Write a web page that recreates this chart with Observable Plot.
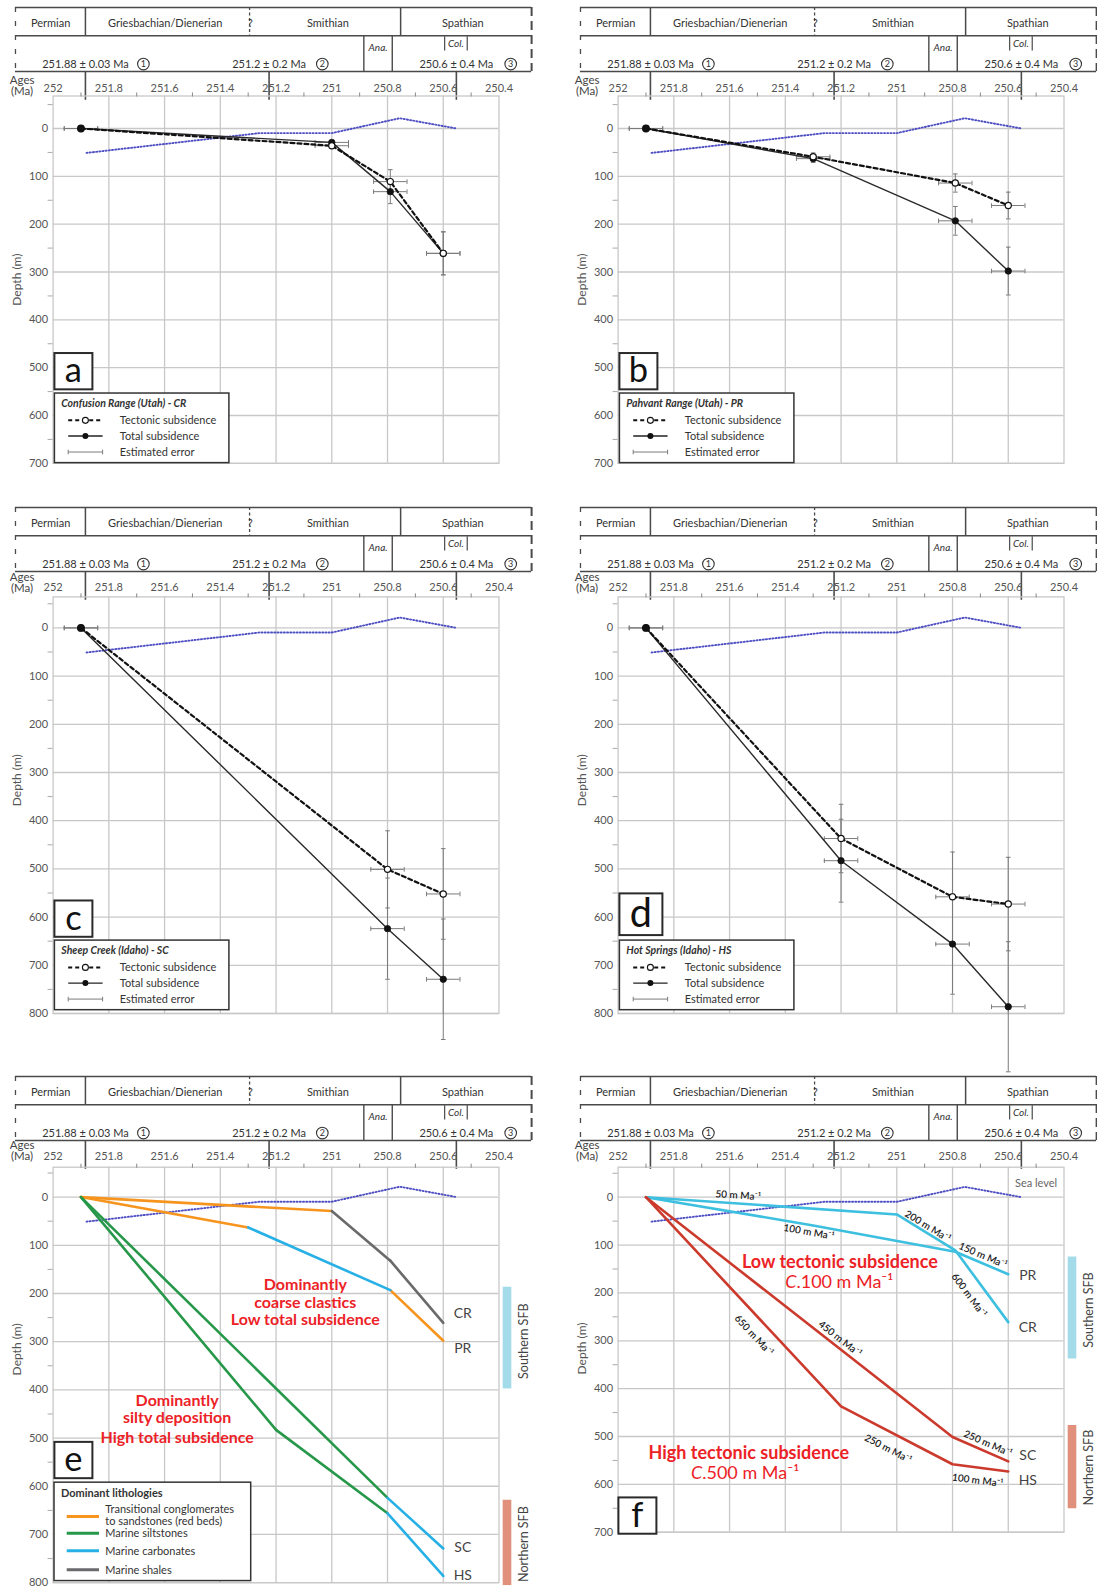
<!DOCTYPE html>
<html><head><meta charset="utf-8">
<script src="https://cdn.jsdelivr.net/npm/d3@7"></script>
<script src="https://cdn.jsdelivr.net/npm/@observablehq/plot@0.6"></script>
<style>
html,body{margin:0;padding:0;background:#fff;}
#page{position:relative;width:1097px;height:1589px;overflow:hidden;background:#fff;}
.abs{position:absolute;}
.abs svg{overflow:visible;}
</style></head><body><div id="page"></div>
<script>
// ---------------- DATA ----------------
// Time scale (Ma) ticks
const xTicks = [252, 251.8, 251.6, 251.4, 251.2, 251, 250.8, 250.6, 250.4];
const xMinor = [251.9, 251.7, 251.5, 251.3, 251.1, 250.9, 250.7, 250.5];
const xGrid = [251.8, 251.6, 251.4, 251.2, 251, 250.8, 250.6];
const yTicks700 = [0, 100, 200, 300, 400, 500, 600, 700];
const yTicks800 = [0, 100, 200, 300, 400, 500, 600, 700, 800];
const yMinor700 = [-50, 50, 150, 250, 350, 450, 550, 650];
const yMinor800 = [-50, 50, 150, 250, 350, 450, 550, 650, 750];

// Stratigraphic header
const stageNames = ["Permian", "Griesbachian/Dienerian", "Smithian", "Spathian"];
const stageNameAges = [252.009, 251.598, 251.014, 250.53];
const stageBoundaryAges = [251.884, 250.753];
const uncertainBoundaryAge = 251.295;
const anaBounds = [250.885, 250.783];
const colBounds = [250.595, 250.514];
const dateLabels = ["251.88 \u00b1 0.03 Ma", "251.2 \u00b1 0.2 Ma", "250.6 \u00b1 0.4 Ma"];
const dateNums = ["1", "2", "3"];
const dateAges = [251.884, 251.225, 250.553];
const dateCircleAges = [251.676, 251.034, 250.358];

// Eustatic sea level (dotted)
const seaAges = [251.88, 251.4, 251.26, 251.0, 250.756, 250.552];
const seaDepths = [51, 19, 9.6, 9.6, -21.5, 0];

// Subsidence sites: ages (Ma), tectonic & total subsidence (m), depth errors (m)
const AGE_ERR = 0.06;
const agesCR = [251.9, 251.0, 250.79, 250.6];
const tectCR = [0, 36, 111, 261];
const totalCR = [0, 29, 132, 261];
const tectErrCR = [0, 4, 25, 45];
const totalErrCR = [0, 4, 25, 45];

const agesPR = [251.9, 251.3, 250.79, 250.6];
const tectPR = [0, 59, 114, 161];
const totalPR = [0, 63, 193, 298];
const tectErrPR = [0, 8, 19, 28];
const totalErrPR = [0, 8, 30, 50];

const agesSC = [251.9, 250.8, 250.6];
const tectSC = [0, 501, 552];
const totalSC = [0, 624, 729];
const tectErrSC = [0, 80, 94];
const totalErrSC = [0, 105, 125];

const agesHS = [251.9, 251.2, 250.8, 250.6];
const tectHS = [0, 437, 558, 573];
const totalHS = [0, 483, 656, 786];
const tectErrHS = [0, 71, 93, 97];
const totalErrHS = [0, 86, 104, 135];

// Dominant lithology of each total-subsidence segment (panel e)
const lithoCR = ["redbeds", "shales", "shales"];
const lithoPR = ["redbeds", "carbonates", "redbeds"];
const lithoSC = ["siltstones", "carbonates"];
const lithoHS = ["siltstones", "siltstones", "carbonates"];

// Site end labels
const siteLabelsE = ["CR", "PR", "SC", "HS"];
const siteLabelDepthsE = [242, 315, 727, 785];
const siteLabelsF = ["PR", "CR", "SC", "HS"];
const siteLabelDepthsF = [164, 272, 540, 593];
const siteLabelAge = 250.53;

// SFB region bars
const regionNames = ["Southern SFB", "Northern SFB"];
const regionTopE = [187, 629], regionBottomE = [398, 806];
const regionTopF = [125, 477], regionBottomF = [338, 651];
const regionTextDepthE = [299, 720], regionTextDepthF = [236, 565];

// Rate labels (panel f)
const rateLabels = ["50 m Ma\u207b\u00b9", "100 m Ma\u207b\u00b9", "200 m Ma\u207b\u00b9", "150 m Ma\u207b\u00b9", "600 m Ma\u207b\u00b9",
  "650 m Ma\u207b\u00b9", "450 m Ma\u207b\u00b9", "250 m Ma\u207b\u00b9", "250 m Ma\u207b\u00b9", "100 m Ma\u207b\u00b9"];
const rateAges = [251.569, 251.315, 250.889, 250.691, 250.741, 251.513, 251.204, 251.031, 250.673, 250.71];
const rateDepths = [-3.5, 73, 61, 122, 205, 289, 296, 526, 515, 592];
const rateSites = ["CR", "PR", "CR", "PR", "CR", "HS", "SC", "HS", "SC", "HS"];
const rateSegs = [[0, 1], [0, 2], [1, 2], [2, 3], [2, 3], [0, 1], [0, 1], [1, 2], [1, 2], [2, 3]];

// ---------------- STYLE / LAYOUT ----------------
const FONT = "Lato, 'Open Sans', 'DejaVu Sans', sans-serif";
const X_DOMAIN = [252, 250.4];
const X_RANGE = [52.6, 498.5];
const COL_X = [0, 564.6];
const SVG_W = 532;
const GRID = "#c8c8c8";
const HDR = "#4a4a4a";
const ERR = "#7a7a7a";
const RED_TXT = "#ec2227";
const LITHO_COLORS = {redbeds: "#f7941d", siltstones: "#27984a", carbonates: "#27b0e6", shales: "#6a6a6c"};
const SOUTH_C = "#3dbfe0", NORTH_C = "#cb3a2c";
const REGION_COLORS = ["#a3dbe9", "#e0907b"];
const HEADER_SPAN = [252.135, 250.283];
const ROW_SPLIT = 0.442;

const ROWS = {
  ab: {headerTop: 6.7, plotTop: 95.2, yDomain: [-68, 700], pxPerM: 0.4783, marginBottom: 14, tickPad: 3.5, agesDy: -19.5},
  cd: {headerTop: 507.3, plotTop: 596.7, yDomain: [-64.3, 800], pxPerM: 0.482, marginBottom: 70, tickPad: 6, agesDy: -24},
  e: {headerTop: 1076, plotTop: 1166.7, yDomain: [-62, 800], pxPerM: 0.482, marginBottom: 6, tickPad: 7, agesDy: -25.5},
  f: {headerTop: 1076, plotTop: 1166.7, yDomain: [-62.7, 700], pxPerM: 0.4786, marginBottom: 12, tickPad: 7, agesDy: -25.5}
};

const page = document.getElementById("page");
function place(node, x, y, w) {
  const div = document.createElement("div");
  div.className = "abs";
  div.style.left = x + "px";
  div.style.top = y + "px";
  div.style.width = w + "px";
  div.appendChild(node);
  page.appendChild(div);
}

// custom cap symbols for error bars
const capV = {draw(ctx, size) { const r = Math.sqrt(size / Math.PI); ctx.moveTo(0, -r); ctx.lineTo(0, r); }};
const capH = {draw(ctx, size) { const r = Math.sqrt(size / Math.PI); ctx.moveTo(-r, 0); ctx.lineTo(r, 0); }};

// function mark helper (overlay drawn relative to the frame)
function overlay(draw) {
  return function(...args) {
    const dims = args.find(a => a && typeof a === "object" && typeof a.marginLeft === "number" && typeof a.height === "number");
    const g = d3.create("svg:g").attr("font-family", FONT).attr("text-anchor", "start");
    draw(g, dims);
    return g.node();
  };
}

function letterBox(letter, opts) {
  const {dxLeft = 1.8, bottomOffset, w = 38, h = 36.3} = opts;
  return overlay((g, d) => {
    const x0 = d.marginLeft + dxLeft;
    const y1 = d.height - d.marginBottom - bottomOffset;
    const y0 = y1 - h;
    g.append("rect").attr("x", x0).attr("y", y0).attr("width", w).attr("height", h)
      .attr("fill", "white").attr("stroke", "#2a2a2a").attr("stroke-width", 2);
    g.append("text").attr("x", x0 + w / 2).attr("y", y0 + h / 2 - 1).attr("dy", "0.35em")
      .attr("text-anchor", "middle").attr("font-size", h * 0.95).attr("fill", "#111").text(letter);
  });
}

function subsidenceLegend(title, bottomGap) {
  return overlay((g, d) => {
    const w = 174.5, h = 69.6;
    const x0 = d.marginLeft + 1.8;
    const y0 = d.height - d.marginBottom - bottomGap - h;
    g.append("rect").attr("x", x0).attr("y", y0).attr("width", w).attr("height", h)
      .attr("fill", "white").attr("stroke", "#333").attr("stroke-width", 1.5);
    g.append("text").attr("x", x0 + 6.9).attr("y", y0 + 10.5).attr("dy", "0.35em")
      .attr("font-size", 10.5).attr("font-weight", "bold").attr("font-style", "italic").attr("fill", "#333").text(title);
    const rows = [["Tectonic subsidence", 27.3, "tect"], ["Total subsidence", 43, "total"], ["Estimated error", 59, "err"]];
    for (const [label, dy, kind] of rows) {
      const y = y0 + dy, xa = x0 + 13.8, xb = x0 + 48.2, xm = (xa + xb) / 2;
      const line = g.append("line").attr("x1", xa).attr("x2", xb).attr("y1", y).attr("y2", y);
      if (kind === "tect") {
        line.attr("stroke", "#111").attr("stroke-width", 2).attr("stroke-dasharray", "4,3");
        g.append("circle").attr("cx", xm).attr("cy", y).attr("r", 3).attr("fill", "white").attr("stroke", "#111").attr("stroke-width", 1.1);
      } else if (kind === "total") {
        line.attr("stroke", "#222").attr("stroke-width", 1.4);
        g.append("circle").attr("cx", xm).attr("cy", y).attr("r", 3).attr("fill", "#111");
      } else {
        line.attr("stroke", ERR).attr("stroke-width", 1);
        for (const xx of [xa, xb]) g.append("line").attr("x1", xx).attr("x2", xx).attr("y1", y - 2.3).attr("y2", y + 2.3).attr("stroke", ERR);
      }
      g.append("text").attr("x", x0 + 65.4).attr("y", y).attr("dy", "0.35em").attr("font-size", 11).attr("fill", "#333").text(label);
    }
  });
}

function lithologyLegend() {
  return overlay((g, d) => {
    const w = 196.7, h = 98.4;
    const x0 = d.marginLeft + 1.4;
    const y0 = d.height - d.marginBottom - 1.6 - h;
    g.append("rect").attr("x", x0).attr("y", y0).attr("width", w).attr("height", h)
      .attr("fill", "white").attr("stroke", "#333").attr("stroke-width", 1.5);
    g.append("text").attr("x", x0 + 7).attr("y", y0 + 10.8).attr("dy", "0.35em")
      .attr("font-size", 11).attr("font-weight", "bold").attr("fill", "#333").text("Dominant lithologies");
    const rows = [
      ["redbeds", 34.4, ["Transitional conglomerates", "to sandstones (red beds)"], [27, 39.4]],
      ["siltstones", 51, ["Marine siltstones"], [51]],
      ["carbonates", 68.7, ["Marine carbonates"], [68.7]],
      ["shales", 87.7, ["Marine shales"], [87.7]]
    ];
    for (const [key, dy, labels, tys] of rows) {
      g.append("line").attr("x1", x0 + 12.7).attr("x2", x0 + 45).attr("y1", y0 + dy).attr("y2", y0 + dy)
        .attr("stroke", LITHO_COLORS[key]).attr("stroke-width", 3);
      labels.forEach((t, i) => g.append("text").attr("x", x0 + 51.3).attr("y", y0 + tys[i]).attr("dy", "0.35em")
        .attr("font-size", 11).attr("fill", "#333").text(t));
    }
  });
}

// ---------------- HEADER ----------------
function header(col, row) {
  const svg = Plot.plot({
    width: SVG_W, height: 100,
    marginLeft: X_RANGE[0], marginRight: SVG_W - X_RANGE[1], marginTop: 2, marginBottom: 34,
    style: {background: "transparent", overflow: "visible", fontFamily: FONT},
    x: {domain: X_DOMAIN, range: X_RANGE, axis: null},
    y: {domain: [0, 1], range: [2, 66], axis: null},
    marks: [
      Plot.ruleY([0, ROW_SPLIT, 1], {x1: HEADER_SPAN[0], x2: HEADER_SPAN[1], stroke: HDR, strokeWidth: 1.5}),
      Plot.ruleX([HEADER_SPAN[0]], {y1: 0, y2: 1, stroke: HDR, strokeWidth: 1.3, strokeDasharray: "5,9"}),
      Plot.ruleX([HEADER_SPAN[1]], {y1: 0, y2: 1, stroke: HDR, strokeWidth: 2, strokeDasharray: "9,5"}),
      Plot.ruleX(stageBoundaryAges, {y1: 0, y2: ROW_SPLIT, stroke: HDR, strokeWidth: 1.5}),
      Plot.ruleX([uncertainBoundaryAge], {y1: 0, y2: ROW_SPLIT, stroke: HDR, strokeWidth: 1.3, strokeDasharray: "3,2.5"}),
      Plot.text(["?"], {x: uncertainBoundaryAge - 0.011, y: 0.25, text: d => d, fontSize: 10.5, fill: "#333", textAnchor: "end"}),
      Plot.text(stageNames, {x: (d, i) => stageNameAges[i], y: 0.25, text: d => d, fontSize: 11, fill: "#333"}),
      Plot.ruleX(anaBounds, {y1: ROW_SPLIT, y2: 1, stroke: HDR, strokeWidth: 1.4}),
      Plot.text(["Ana."], {x: d3.mean(anaBounds), y: 0.625, text: d => d, fontSize: 10, fontStyle: "italic", fill: "#333"}),
      Plot.ruleX(colBounds, {y1: 0.458, y2: 0.678, stroke: HDR, strokeWidth: 1.2}),
      Plot.text(["Col."], {x: d3.mean(colBounds), y: 0.572, text: d => d, fontSize: 10, fontStyle: "italic", fill: "#333"}),
      Plot.text(dateLabels, {x: (d, i) => dateAges[i], y: 0.884, text: d => d, fontSize: 11, fill: "#333"}),
      Plot.dot(dateNums, {x: (d, i) => dateCircleAges[i], y: 0.884, r: 5.8, stroke: "#333", fill: "none", strokeWidth: 1.1}),
      Plot.text(dateNums, {x: (d, i) => dateCircleAges[i], y: 0.884, text: d => d, fontSize: 9, fill: "#333"}),
      Plot.ruleX(dateAges, {y1: 1, y2: 1.45, stroke: HDR, strokeWidth: 1.6})
    ]
  });
  place(svg, COL_X[col], row.headerTop - 2, SVG_W);
}

// ---------------- BODY ----------------
function body(col, row, yTicks, yMinor, extraMarks) {
  const bodyTop = row.headerTop + 64;
  const mt = row.plotTop - bodyTop;
  const plotH = (row.yDomain[1] - row.yDomain[0]) * row.pxPerM;
  const H = mt + plotH + row.marginBottom;
  const sea = seaAges.map((a, i) => ({age: a, depth: seaDepths[i]}));
  const svg = Plot.plot({
    width: SVG_W, height: H,
    marginLeft: X_RANGE[0], marginRight: SVG_W - X_RANGE[1], marginTop: mt, marginBottom: row.marginBottom,
    style: {background: "transparent", overflow: "visible", fontFamily: FONT},
    x: {domain: X_DOMAIN, range: X_RANGE},
    y: {domain: row.yDomain, range: [mt, mt + plotH]},
    marks: [
      Plot.gridX(xGrid, {stroke: GRID, strokeOpacity: 1, strokeWidth: 1.3}),
      Plot.gridY(yTicks, {stroke: GRID, strokeOpacity: 1, strokeWidth: 1.3}),
      Plot.frame({stroke: GRID, strokeWidth: 1.3}),
      Plot.axisX(xTicks, {anchor: "top", tickSize: 0, tickPadding: row.tickPad, tickFormat: d => String(d), fontSize: 11, fill: "#555", label: null}),
      Plot.axisX(xMinor, {anchor: "top", tickSize: 4, tickFormat: () => "", stroke: "#888", label: null}),
      Plot.axisY(yTicks, {anchor: "left", tickSize: 0, tickPadding: 5, tickFormat: d => String(d), fontSize: 11, fill: "#555", label: null}),
      Plot.axisY(yMinor, {anchor: "left", tickSize: 5, tickFormat: () => "", stroke: "#aaa", label: null}),
      Plot.text(["Depth (m)"], {y: 316, frameAnchor: "left", dx: -35.5, rotate: -90, textAnchor: "middle", text: d => d, fontSize: 12, fill: "#555"}),
      Plot.text(["Ages\n(Ma)"], {frameAnchor: "top-left", dx: -31, dy: row.agesDy, textAnchor: "middle", lineAnchor: "top", lineHeight: 0.95, text: d => d, fontSize: 11.5, fill: "#444"}),
      Plot.line(sea, {x: "age", y: "depth", stroke: "#4f4fc4", strokeWidth: 1.9, strokeDasharray: "1.1,2.1"}),
      ...extraMarks
    ]
  });
  place(svg, COL_X[col], bodyTop, SVG_W);
}

function series(ages, depths, errs) { return ages.map((a, i) => ({age: a, depth: depths[i], err: errs[i], i})); }

function subsidenceMarks(ages, tect, total, tectErr, totalErr) {
  const T = series(ages, tect, tectErr);
  const S = series(ages, total, totalErr);
  const all = [...T, ...S];
  const vb = all.filter(d => d.err > 0);
  const eo = {stroke: ERR, strokeWidth: 1};
  return [
    Plot.ruleY(all, {y: "depth", x1: d => d.age + AGE_ERR, x2: d => d.age - AGE_ERR, ...eo}),
    Plot.dot(all, {x: d => d.age + AGE_ERR, y: "depth", symbol: capV, r: 2.3, fill: "none", ...eo}),
    Plot.dot(all, {x: d => d.age - AGE_ERR, y: "depth", symbol: capV, r: 2.3, fill: "none", ...eo}),
    Plot.ruleX(vb, {x: "age", y1: d => d.depth - d.err, y2: d => d.depth + d.err, ...eo}),
    Plot.dot(vb, {x: "age", y: d => d.depth - d.err, symbol: capH, r: 2.3, fill: "none", ...eo}),
    Plot.dot(vb, {x: "age", y: d => d.depth + d.err, symbol: capH, r: 2.3, fill: "none", ...eo}),
    Plot.line(S, {x: "age", y: "depth", stroke: "#2a2a2a", strokeWidth: 1.4}),
    Plot.line(T, {x: "age", y: "depth", stroke: "#111", strokeWidth: 2.2, strokeDasharray: "4,3"}),
    Plot.dot(S, {x: "age", y: "depth", r: 3.2, fill: "#111", stroke: "#111", strokeWidth: 0.8}),
    Plot.dot(T.filter(d => d.i > 0), {x: "age", y: "depth", r: 3.1, fill: "white", stroke: "#111", strokeWidth: 1.2}),
    Plot.dot(T.filter(d => d.i === 0), {x: "age", y: "depth", r: 3.2, fill: "#111", stroke: "#111"})
  ];
}

// Panels a-d
header(0, ROWS.ab); header(1, ROWS.ab);
header(0, ROWS.cd); header(1, ROWS.cd);
header(0, ROWS.e); header(1, ROWS.f);

body(0, ROWS.ab, yTicks700, yMinor700, [
  ...subsidenceMarks(agesCR, tectCR, totalCR, tectErrCR, totalErrCR),
  subsidenceLegend("Confusion Range (Utah) - CR", 0.2),
  letterBox("a", {bottomOffset: 0.2 + 69.6 + 3.7})
]);
body(1, ROWS.ab, yTicks700, yMinor700, [
  ...subsidenceMarks(agesPR, tectPR, totalPR, tectErrPR, totalErrPR),
  subsidenceLegend("Pahvant Range (Utah) - PR", 0.2),
  letterBox("b", {bottomOffset: 0.2 + 69.6 + 3.7})
]);
body(0, ROWS.cd, yTicks800, yMinor800, [
  ...subsidenceMarks(agesSC, tectSC, totalSC, tectErrSC, totalErrSC),
  subsidenceLegend("Sheep Creek (Idaho) - SC", 3.3),
  letterBox("c", {bottomOffset: 3.3 + 69.6 + 3.3})
]);
body(1, ROWS.cd, yTicks800, yMinor800, [
  ...subsidenceMarks(agesHS, tectHS, totalHS, tectErrHS, totalErrHS),
  subsidenceLegend("Hot Springs (Idaho) - HS", 3.3),
  letterBox("d", {bottomOffset: 3.3 + 69.6 + 5, w: 43, h: 41.7})
]);

// Panel e: total subsidence coloured by lithology
const sitesTotal = [
  ["CR", agesCR, totalCR, lithoCR], ["PR", agesPR, totalPR, lithoPR],
  ["SC", agesSC, totalSC, lithoSC], ["HS", agesHS, totalHS, lithoHS]
];
const eSegments = sitesTotal.flatMap(([site, ages, depths, litho]) =>
  litho.map((l, i) => ({site, litho: l, a1: ages[i], d1: depths[i], a2: ages[i + 1], d2: depths[i + 1]})));
const regionsE = regionNames.map((n, i) => ({name: n, top: regionTopE[i], bottom: regionBottomE[i], text: regionTextDepthE[i], color: REGION_COLORS[i]}));
const regionsF = regionNames.map((n, i) => ({name: n, top: regionTopF[i], bottom: regionBottomF[i], text: regionTextDepthF[i], color: REGION_COLORS[i]}));
const REGION_X = [250.385, 250.354], REGION_TEXT_X = 250.312;
function regionMarks(regions) {
  return [
    ...regions.map(r => Plot.rect([r], {x1: REGION_X[0], x2: REGION_X[1], y1: "top", y2: "bottom", fill: r.color})),
    Plot.text(regions, {x: REGION_TEXT_X, y: "text", text: "name", rotate: -90, fontSize: 12.5, fill: "#444"})
  ];
}
const redLines = (lines, ages, depths, size) => Plot.text(lines, {x: (d, i) => ages[i], y: (d, i) => depths[i], text: d => d, fontSize: size, fontWeight: "bold", fill: RED_TXT});

body(0, ROWS.e, yTicks800, yMinor800, [
  ...Object.keys(LITHO_COLORS).map(k => Plot.link(eSegments.filter(s => s.litho === k), {x1: "a1", y1: "d1", x2: "a2", y2: "d2", stroke: LITHO_COLORS[k], strokeWidth: 2.6, strokeLinecap: "round"})),
  Plot.text(siteLabelsE, {x: siteLabelAge, y: (d, i) => siteLabelDepthsE[i], text: d => d, fontSize: 14, fill: "#444"}),
  redLines(["Dominantly", "coarse clastics", "Low total subsidence"], [251.095, 251.095, 251.095], [183, 219, 254], 16),
  redLines(["Dominantly", "silty deposition", "High total subsidence"], [251.555, 251.555, 251.555], [422, 458, 500], 16),
  ...regionMarks(regionsE),
  lithologyLegend(),
  letterBox("e", {bottomOffset: 1.6 + 98.4 + 4})
]);

// Panel f: tectonic subsidence
const sitesTect = {CR: [agesCR, tectCR, "S"], PR: [agesPR, tectPR, "S"], SC: [agesSC, tectSC, "N"], HS: [agesHS, tectHS, "N"]};
const fPoints = Object.entries(sitesTect).flatMap(([site, [ages, depths, reg]]) => ages.map((a, i) => ({site, reg, age: a, depth: depths[i]})));
const fx = d3.scaleLinear(X_DOMAIN, X_RANGE);
const fy = d => d * ROWS.f.pxPerM;
const rateData = rateLabels.map((t, k) => {
  const [ages, depths] = sitesTect[rateSites[k]];
  const [i, j] = rateSegs[k];
  const ang = Math.atan2(fy(depths[j]) - fy(depths[i]), fx(ages[j]) - fx(ages[i])) * 180 / Math.PI;
  return {text: t, age: rateAges[k], depth: rateDepths[k], rotate: ang};
});

body(1, ROWS.f, yTicks700, yMinor700, [
  Plot.line(fPoints.filter(d => d.reg === "S"), {x: "age", y: "depth", z: "site", stroke: SOUTH_C, strokeWidth: 2.6, strokeLinejoin: "round"}),
  Plot.line(fPoints.filter(d => d.reg === "N"), {x: "age", y: "depth", z: "site", stroke: NORTH_C, strokeWidth: 2.6, strokeLinejoin: "round"}),
  Plot.text(rateData, {x: "age", y: "depth", text: "text", rotate: "rotate", fontSize: 10, fontWeight: "600", fill: "#222"}),
  Plot.text(["Sea level"], {x: 250.5, y: -28, text: d => d, fontSize: 11, fill: "#666"}),
  Plot.text(siteLabelsF, {x: siteLabelAge, y: (d, i) => siteLabelDepthsF[i], text: d => d, fontSize: 14, fill: "#444"}),
  redLines(["Low tectonic subsidence"], [251.204], [136], 18),
  Plot.text(["C"], {x: 251.36, y: 178, text: d => d, textAnchor: "end", fontSize: 18, fontStyle: "italic", fill: RED_TXT}),
  Plot.text([".100 m Ma\u207b\u00b9"], {x: 251.36, y: 178, text: d => d, textAnchor: "start", fontSize: 18, fill: RED_TXT}),
  redLines(["High tectonic subsidence"], [251.531], [536], 18),
  Plot.text(["C"], {x: 251.698, y: 577, text: d => d, textAnchor: "end", fontSize: 18, fontStyle: "italic", fill: RED_TXT}),
  Plot.text([".500 m Ma\u207b\u00b9"], {x: 251.698, y: 577, text: d => d, textAnchor: "start", fontSize: 18, fill: RED_TXT}),
  ...regionMarks(regionsF),
  letterBox("f", {dxLeft: 0.8, bottomOffset: -2})
]);
</script></body></html>
